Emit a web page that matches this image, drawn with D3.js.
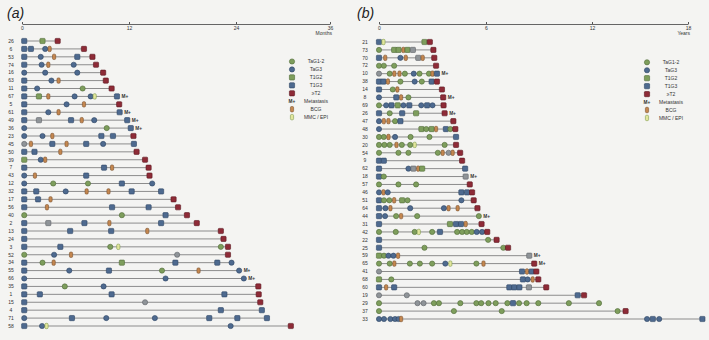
<!DOCTYPE html>
<html>
<head>
<meta charset="utf-8">
<script src="https://cdn.jsdelivr.net/npm/d3@7"></script>
<style>
  body { margin: 0; background: #f4f4f2; }
  svg { display: block; font-family: "Liberation Sans", Arial, sans-serif; }
</style>
</head>
<body>
<script>
// 两个泳道图: (a) 月份, (b) 年份
// 每一行是一个病人, 每个事件是 [时间, 类型]

let patientsA = [26, 6, 53, 74, 16, 63, 11, 67, 5, 61, 49, 36, 23, 45, 50, 39, 7, 43, 12, 32, 17, 56, 40, 2, 13, 24, 3, 52, 34, 55, 66, 35, 1, 15, 4, 71, 58]
let eventsA = [
  [[0.25, 'T1G3'], [2.3, 'T1G2'], [4.0, 'T2']],
  [[0.25, 'T1G3'], [1.0, 'T1G3'], [2.6, 'TaG3'], [3.1, 'BCG'], [6.95, 'T2']],
  [[0.25, 'T1G3'], [2.1, 'TaG3'], [3.6, 'BCG'], [6.2, 'T1G3'], [7.9, 'T2']],
  [[0.25, 'T1G3'], [2.2, 'TaG3'], [2.95, 'BCG'], [5.8, 'TaG3'], [8.3, 'T2']],
  [[0.25, 'TaG3'], [2.6, 'TaG3'], [6.2, 'TaG3'], [9.1, 'T2']],
  [[0.25, 'T1G3'], [3.3, 'TaG3'], [4.1, 'BCG'], [9.4, 'T2']],
  [[0.25, 'T1G3'], [1.7, 'TaG3'], [6.8, 'TaG12'], [10.05, 'T2']],
  [[0.25, 'T1G3'], [1.9, 'T1G2'], [2.95, 'BCG'], [5.9, 'TaG3'], [7.7, 'TaG3'], [8.15, 'MMC'], [10.65, 'T1G3']],
  [[0.25, 'T1G3'], [5.0, 'TaG3'], [6.95, 'BCG'], [10.9, 'T2']],
  [[0.25, 'T1G3'], [2.95, 'TaG3'], [4.1, 'BCG'], [10.95, 'T1G3']],
  [[0.25, 'T1G3'], [1.9, 'Gs'], [5.5, 'T1G3'], [6.7, 'BCG'], [8.1, 'TaG3'], [11.8, 'T1G3']],
  [[0.25, 'TaG3'], [9.5, 'TaG12'], [12.2, 'T1G3']],
  [[0.25, 'TaG3'], [2.3, 'TaG3'], [3.4, 'BCG'], [8.9, 'T1G3'], [10.2, 'T1G3'], [12.5, 'T2']],
  [[0.25, 'Gc'], [1.0, 'BCG'], [3.4, 'T1G3'], [5.0, 'BCG'], [7.2, 'T1G3'], [9.1, 'TaG3'], [12.55, 'T1G3']],
  [[0.25, 'T1G3'], [1.4, 'T1G3'], [4.3, 'BCG'], [12.85, 'T2']],
  [[0.25, 'T1G2'], [2.1, 'TaG3'], [2.6, 'BCG'], [13.8, 'T2']],
  [[0.25, 'T1G3'], [9.2, 'T1G3'], [10.1, 'BCG'], [14.2, 'T2']],
  [[0.25, 'TaG3'], [1.45, 'BCG'], [7.2, 'T1G3'], [14.3, 'T2']],
  [[0.25, 'TaG3'], [3.5, 'TaG12'], [7.4, 'TaG12'], [11.2, 'T1G3'], [14.6, 'TaG3']],
  [[0.25, 'T1G3'], [1.6, 'T1G3'], [4.9, 'TaG3'], [7.25, 'BCG'], [9.7, 'BCG'], [12.3, 'T1G3'], [15.6, 'T1G3']],
  [[0.25, 'T1G3'], [1.8, 'T1G3'], [3.2, 'BCG'], [17.0, 'T2']],
  [[0.25, 'T1G3'], [2.8, 'BCG'], [10.1, 'T1G3'], [14.2, 'T1G3'], [17.5, 'T2']],
  [[0.25, 'TaG12'], [11.2, 'TaG12'], [16.1, 'T1G3'], [18.5, 'T2']],
  [[0.25, 'T1G3'], [2.95, 'Gs'], [7.0, 'T1G3'], [9.8, 'BCG'], [15.6, 'T1G3'], [19.6, 'T2']],
  [[0.25, 'T1G3'], [5.4, 'T1G3'], [10.0, 'T1G3'], [14.05, 'BCG'], [22.3, 'T2']],
  [[0.25, 'T1G3'], [22.6, 'T2']],
  [[0.25, 'T1G3'], [4.3, 'T1G3'], [9.9, 'TaG12'], [10.8, 'MMC'], [22.3, 'TaG12'], [23.1, 'T2']],
  [[0.25, 'TaG12'], [3.6, 'TaG3'], [5.5, 'BCG'], [17.4, 'Gc'], [23.1, 'T2']],
  [[0.25, 'T1G3'], [2.3, 'TaG12'], [3.55, 'BCG'], [11.2, 'T1G2'], [17.2, 'T1G3'], [21.9, 'T1G3'], [23.5, 'TaG3']],
  [[0.25, 'T1G3'], [5.3, 'TaG3'], [9.75, 'T1G3'], [15.7, 'TaG12'], [19.8, 'BCG'], [24.4, 'TaG3']],
  [[0.25, 'TaG3'], [16.1, 'TaG3'], [25.0, 'TaG3']],
  [[0.25, 'T1G3'], [4.8, 'TaG12'], [9.15, 'TaG3'], [26.85, 'T2']],
  [[0.25, 'T1G3'], [2.0, 'T1G3'], [10.05, 'T1G3'], [22.7, 'T1G3'], [26.9, 'T2']],
  [[0.25, 'T1G3'], [13.8, 'Gc'], [27.1, 'T2']],
  [[0.25, 'T1G3'], [22.3, 'T1G3'], [27.3, 'T1G3']],
  [[0.25, 'TaG3'], [5.6, 'T1G3'], [9.45, 'TaG3'], [14.9, 'TaG3'], [21.0, 'T1G3'], [24.17, 'T1G3'], [27.95, 'T1G3']],
  [[0.25, 'T1G3'], [2.25, 'TaG3'], [2.75, 'MMC'], [23.4, 'TaG3'], [31.0, 'T2']]
]
let metastasisA = [67, 61, 49, 36, 55, 66]
let ticksA = [0, 12, 24, 36]

let patientsB = [21, 73, 70, 72, 10, 38, 14, 8, 69, 26, 47, 48, 30, 20, 54, 9, 62, 18, 57, 46, 51, 64, 44, 31, 42, 22, 25, 59, 65, 41, 68, 60, 19, 29, 37, 33]
let eventsB = [
  [[0, 'T1G3'], [0.25, 'MMC'], [2.55, 'T1G2'], [2.85, 'T2']],
  [[0, 'TaG12'], [0.85, 'T1G2'], [1.1, 'T1G2'], [1.37, 'BCG'], [1.6, 'T1G2'], [1.9, 'Gs'], [3.05, 'T2']],
  [[0, 'T1G3'], [0.35, 'BCG'], [1.2, 'TaG3'], [1.5, 'BCG'], [2.2, 'Gs'], [2.45, 'BCG'], [3.1, 'T2']],
  [[0, 'TaG12'], [0.27, 'TaG12'], [0.85, 'TaG12'], [3.2, 'T2']],
  [[0, 'Gc'], [0.6, 'TaG12'], [0.86, 'BCG'], [1.15, 'BCG'], [1.45, 'TaG12'], [1.95, 'TaG3'], [2.27, 'TaG12'], [2.8, 'TaG12'], [3.0, 'BCG'], [3.25, 'T1G3']],
  [[0, 'T1G3'], [0.25, 'T1G3'], [0.5, 'BCG'], [1.2, 'TaG12'], [2.0, 'TaG3'], [2.4, 'TaG12'], [2.95, 'T1G3'], [3.25, 'T2']],
  [[0, 'T1G3'], [0.77, 'TaG12'], [1.03, 'BCG'], [3.53, 'T2']],
  [[0, 'TaG3'], [0.97, 'T1G3'], [1.24, 'BCG'], [1.65, 'TaG12'], [3.6, 'T2']],
  [[0, 'TaG12'], [0.4, 'TaG3'], [0.7, 'T1G3'], [1.05, 'T1G2'], [1.37, 'TaG3'], [1.7, 'T1G3'], [2.37, 'TaG3'], [2.7, 'T1G3'], [3.0, 'TaG3'], [3.62, 'T2']],
  [[0, 'T1G3'], [0.6, 'TaG12'], [1.3, 'T1G3'], [2.08, 'T1G2'], [3.68, 'T2']],
  [[0, 'TaG3'], [0.27, 'BCG'], [0.53, 'BCG'], [0.9, 'TaG12'], [1.2, 'T1G3'], [4.17, 'T2']],
  [[0, 'TaG3'], [2.38, 'T1G2'], [2.65, 'TaG12'], [2.95, 'T1G2'], [3.2, 'BCG'], [3.75, 'T1G3'], [4.0, 'TaG12'], [4.28, 'T2']],
  [[0, 'TaG12'], [0.27, 'TaG12'], [0.53, 'BCG'], [0.9, 'TaG3'], [1.77, 'TaG12'], [2.83, 'TaG12'], [4.32, 'T1G3']],
  [[0, 'TaG12'], [0.3, 'TaG12'], [0.6, 'TaG12'], [0.98, 'BCG'], [1.28, 'TaG12'], [1.75, 'TaG12'], [2.0, 'MMC'], [3.68, 'TaG12'], [4.32, 'T2']],
  [[0, 'TaG12'], [1.09, 'TaG12'], [1.65, 'TaG12'], [3.3, 'TaG12'], [3.57, 'BCG'], [3.9, 'Gc'], [4.13, 'BCG'], [4.55, 'T2']],
  [[0, 'T1G3'], [0.27, 'T1G3'], [4.66, 'T2']],
  [[0, 'T1G3'], [1.65, 'TaG3'], [1.93, 'Gs'], [2.2, 'BCG'], [2.42, 'T1G2'], [4.83, 'T1G3']],
  [[0, 'T1G3'], [0.27, 'TaG12'], [4.86, 'Gs']],
  [[0, 'TaG12'], [1.09, 'TaG12'], [2.08, 'TaG12'], [5.09, 'T2']],
  [[0, 'TaG3'], [0.25, 'BCG'], [0.49, 'TaG3'], [4.62, 'T1G3'], [4.94, 'T1G3'], [5.22, 'T2']],
  [[0, 'T1G3'], [0.28, 'TaG12'], [0.58, 'TaG12'], [0.85, 'BCG'], [1.3, 'T1G2'], [1.6, 'TaG12'], [4.62, 'TaG3'], [5.31, 'T2']],
  [[0, 'T1G3'], [0.36, 'TaG3'], [0.64, 'BCG'], [1.75, 'TaG3'], [3.64, 'TaG3'], [3.9, 'BCG'], [4.41, 'BCG'], [5.52, 'T2']],
  [[0, 'T1G3'], [0.34, 'TaG3'], [0.96, 'TaG12'], [1.24, 'BCG'], [2.14, 'TaG12'], [5.6, 'TaG12']],
  [[0, 'T1G3'], [3.98, 'T1G2'], [4.32, 'T1G3'], [4.6, 'T1G3'], [4.86, 'BCG'], [5.75, 'T2']],
  [[0, 'TaG12'], [0.94, 'TaG12'], [2.0, 'TaG12'], [2.23, 'MMC'], [2.98, 'TaG12'], [3.42, 'T1G3'], [4.38, 'TaG12'], [4.66, 'TaG12'], [4.92, 'TaG12'], [5.2, 'TaG12'], [5.48, 'TaG3'], [5.78, 'TaG3'], [6.07, 'T2']],
  [[0, 'T1G3'], [6.12, 'TaG12'], [6.6, 'T2']],
  [[0, 'T1G3'], [2.55, 'TaG12'], [6.98, 'TaG12'], [7.25, 'T2']],
  [[0, 'T1G2'], [0.28, 'TaG12'], [0.53, 'TaG3'], [0.81, 'TaG3'], [1.07, 'BCG'], [8.45, 'Gs']],
  [[0, 'TaG12'], [0.6, 'TaG12'], [0.86, 'BCG'], [1.73, 'TaG12'], [2.29, 'TaG12'], [2.98, 'TaG12'], [3.72, 'TaG3'], [4.0, 'MMC'], [5.46, 'TaG12'], [5.86, 'BCG'], [8.73, 'T2']],
  [[0, 'Gc'], [8.04, 'T1G3'], [8.32, 'BCG'], [8.58, 'T1G3'], [8.85, 'T2']],
  [[0, 'T1G2'], [0.69, 'TaG12'], [8.09, 'T1G3'], [8.36, 'TaG3'], [8.64, 'BCG'], [8.96, 'T2']],
  [[0, 'T1G3'], [0.4, 'BCG'], [0.85, 'T1G3'], [7.32, 'T1G3'], [7.6, 'T1G3'], [7.89, 'T1G3'], [8.43, 'Gs'], [9.41, 'T2']],
  [[0, 'Gc'], [1.56, 'Gc'], [11.19, 'T1G3'], [11.55, 'T2']],
  [[0, 'TaG12'], [2.16, 'Gc'], [2.5, 'Gc'], [3.08, 'TaG12'], [3.36, 'TaG12'], [4.56, 'TaG12'], [5.46, 'TaG12'], [5.73, 'TaG12'], [6.14, 'TaG12'], [6.55, 'TaG12'], [7.21, 'TaG12'], [7.53, 'T1G3'], [7.87, 'TaG12'], [8.3, 'TaG12'], [8.96, 'TaG12'], [10.69, 'TaG12'], [12.44, 'TaG12']],
  [[0, 'TaG12'], [4.2, 'TaG12'], [6.89, 'TaG12'], [13.6, 'TaG12'], [14.1, 'T2']],
  [[0, 'TaG3'], [0.28, 'TaG3'], [0.64, 'TaG3'], [0.9, 'TaG3'], [1.1, 'TaG3'], [1.24, 'BCG'], [15.44, 'TaG3'], [15.8, 'T1G3'], [16.2, 'TaG3'], [18.9, 'T1G3']]
]
let metastasisB = [10, 8, 26, 18, 44, 59, 65]
let ticksB = [0, 6, 12, 18]

let legendKeys = ['TaG12', 'TaG3', 'T1G2', 'T1G3', 'T2', 'M', 'BCG', 'MMC']
let legendLabels = ['TaG1-2', 'TaG3', 'T1G2', 'T1G3', '≥T2', 'Metastasis', 'BCG', 'MMC / EPI']

// 颜色和形状
let fills = { TaG12: '#7e9e5c', TaG3: '#4e6a8f', T1G2: '#7e9e5c', T1G3: '#4e6a8f', T2: '#8e2b37', Gc: '#8f9498', Gs: '#8f9498', BCG: '#c4874f', MMC: '#e2e69c' }
let strokes = { TaG12: '#4f6a38', TaG3: '#2e4463', T1G2: '#4f6a38', T1G3: '#2e4463', T2: '#5a151e', Gc: '#5e6266', Gs: '#5e6266', BCG: '#7a5230', MMC: '#7e9a4e' }
let circles = ['TaG12', 'TaG3', 'Gc']
let pills = ['BCG', 'MMC']

let Width = 709
let Height = 340
let svg = d3.select('body').append('svg')
  .attr('width', Width)
  .attr('height', Height)

function drawMarker (g, type, x, y) {
  if (circles.indexOf(type) >= 0) {
    g.append('circle').attr('cx', x).attr('cy', y).attr('r', 2.6)
      .attr('fill', fills[type]).attr('stroke', strokes[type]).attr('stroke-width', 0.6)
  } else if (pills.indexOf(type) >= 0) {
    g.append('rect').attr('x', x - 1.6).attr('y', y - 2.7).attr('width', 3.2).attr('height', 5.4).attr('rx', 1.2)
      .attr('fill', fills[type]).attr('stroke', strokes[type]).attr('stroke-width', 0.6)
  } else {
    g.append('rect').attr('x', x - 2.6).attr('y', y - 2.6).attr('width', 5.2).attr('height', 5.2).attr('rx', 0.8)
      .attr('fill', fills[type]).attr('stroke', strokes[type]).attr('stroke-width', 0.6)
  }
}

function drawPanel (p) {
  let x = d3.scaleLinear().domain(p.ticks).range(p.xRange)
  let y = d3.scalePoint().domain(p.patients).range(p.yRange)
  let g = svg.append('g')

  // 标题
  g.append('text').attr('x', p.titleX).attr('y', 18)
    .attr('font-size', 14).attr('font-style', 'italic').attr('fill', '#222')
    .text(p.title)

  // 顶部坐标轴
  let axisG = g.append('g')
    .attr('transform', 'translate(0,24)')
    .call(d3.axisBottom(x).tickValues(p.ticks).tickSizeInner(-2).tickSizeOuter(0).tickPadding(2))
  axisG.select('.domain').attr('stroke', '#555').attr('stroke-width', 0.9)
  axisG.selectAll('.tick line').attr('stroke', '#555')
  axisG.selectAll('text').attr('font-size', 5).attr('fill', '#333').attr('font-family', '"Liberation Sans", Arial, sans-serif')
  g.append('text').attr('x', p.xRange[p.xRange.length - 1] + 2).attr('y', 35)
    .attr('text-anchor', 'end').attr('font-size', 5).attr('fill', '#333')
    .text(p.unit)

  // 每一行
  let rows = g.selectAll('.row')
    .data(p.patients)
    .enter()
    .append('g')
    .attr('class', 'row')

  rows.append('text')
    .attr('x', p.labelX)
    .attr('y', (d) => y(d))
    .attr('dy', '0.35em')
    .attr('text-anchor', 'middle')
    .attr('font-size', 5)
    .attr('fill', '#333')
    .text((d) => d)

  rows.append('line')
    .attr('x1', (d, i) => x(p.events[i][0][0]))
    .attr('x2', (d, i) => x(p.events[i][p.events[i].length - 1][0]))
    .attr('y1', (d) => y(d))
    .attr('y2', (d) => y(d))
    .attr('stroke', '#8c8c8c')
    .attr('stroke-width', 1)

  rows.each(function (d, i) {
    let row = d3.select(this)
    p.events[i].forEach((e) => drawMarker(row, e[1], x(e[0]), y(d)))
    if (p.metastasis.indexOf(d) >= 0) {
      let last = p.events[i][p.events[i].length - 1][0]
      row.append('text')
        .attr('x', x(last) + 4.5)
        .attr('y', y(d))
        .attr('dy', '0.35em')
        .attr('font-size', 4.8)
        .attr('font-weight', 'bold')
        .attr('fill', '#333')
        .text('M+')
    }
  })

  // 图例
  let legend = g.selectAll('.legend')
    .data(legendKeys)
    .enter()
    .append('g')
    .attr('class', 'legend')
  legend.each(function (d, i) {
    let ly = p.legendY + i * 7.95
    let item = d3.select(this)
    if (d === 'M') {
      item.append('text').attr('x', p.legendX).attr('y', ly).attr('dy', '0.35em')
        .attr('text-anchor', 'middle').attr('font-size', 4.8).attr('font-weight', 'bold').attr('fill', '#333').text('M+')
    } else {
      drawMarker(item, d, p.legendX, ly)
    }
    item.append('text').attr('x', p.legendX + 24).attr('y', ly).attr('dy', '0.35em')
      .attr('text-anchor', 'middle').attr('font-size', 5).attr('fill', '#333')
      .text(legendLabels[i])
  })
}

drawPanel({
  title: '(a)', titleX: 7, unit: 'Months',
  patients: patientsA, events: eventsA, metastasis: metastasisA, ticks: ticksA,
  xRange: [22, 129, 236, 330], yRange: [41, 326], labelX: 11,
  legendX: 292, legendY: 61.5
})
drawPanel({
  title: '(b)', titleX: 357, unit: 'Years',
  patients: patientsB, events: eventsB, metastasis: metastasisB, ticks: ticksB,
  xRange: [379, 486, 592, 688], yRange: [42, 319], labelX: 365,
  legendX: 647, legendY: 62.3
})
</script>
</body>
</html>
